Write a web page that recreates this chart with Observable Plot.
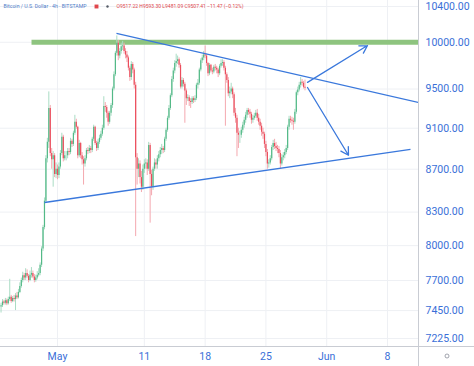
<!DOCTYPE html>
<html>
<head>
<meta charset="utf-8">
<script src="https://cdn.jsdelivr.net/npm/d3@7"></script>
<script src="https://cdn.jsdelivr.net/npm/@observablehq/plot@0.6"></script>
<style>
  html, body { margin: 0; padding: 0; background: #ffffff; }
  #chart { width: 474px; height: 366px; overflow: hidden; }
</style>
</head>
<body>
<div id="chart"></div>
<script>
// ---- Data (4h candles, BTC/USD Bitstamp) ----
const firstStart = "2020-04-24T12:00Z";
const firstOpen = 7480;
const closes = [
  7490, 7520, 7510,
  7530, 7505, 7540, 7560, 7525, 7550,
  7540, 7570, 7555, 7600, 7650, 7700,
  7740, 7720, 7760, 7735, 7700, 7745,
  7760, 7730, 7700, 7720, 7745, 7760,
  7830, 7970, 8160, 8400, 8800, 8960,
  9300, 8850, 8790, 8830, 8650, 8700,
  8640, 8720, 8850, 9010, 8800, 8830,
  8830, 8870, 8860, 8970, 8940, 9050,
  9160, 9110, 8830, 8950, 8830, 8790,
  8750, 8800, 8880, 8870, 8900, 8880,
  8990, 9110, 8950, 8900, 8960, 9000,
  9040, 9100, 9320, 9310, 9250, 9160,
  9250, 9330, 9500, 9650, 9880, 9990,
  9850, 9900, 9950, 9960, 9900, 9860,
  9830, 9720, 9620, 9760, 9700, 9540,
  8810, 8700, 8750, 8620, 8530, 8700,
  8750, 8760, 8700, 8930, 8650, 8530,
  8700, 8760, 8740, 8800, 8840, 8880,
  8900, 8880, 8990, 9080, 9200, 9300,
  9430, 9600, 9690, 9770, 9790, 9810,
  9750, 9520, 9590, 9550, 9480, 9400,
  9410, 9370, 9360, 9400, 9380, 9400,
  9540, 9560, 9700, 9800, 9830, 9860,
  9850, 9770, 9660, 9750, 9690, 9680,
  9730, 9720, 9700, 9660, 9740, 9770,
  9780, 9720, 9650, 9590, 9450, 9470,
  9500, 9440, 9250, 9200, 9050, 9030,
  9030, 9080, 9130, 9180, 9230, 9280,
  9260, 9240, 9180, 9200, 9220, 9250,
  9200, 9160, 9120, 9060, 9040, 8940,
  8860, 8750, 8760, 8800, 8910, 8950,
  8920, 8900, 8890, 8850, 8750, 8810,
  8830, 8860, 8900, 9110, 9190, 9180,
  9170, 9160, 9260, 9460, 9490, 9540,
  9570, 9560, 9517.22, 9507.41
];
const highs = [
  7510, 7540, 7535,
  7550, 7545, 7560, 7710, 7575, 7565,
  7575, 7590, 7600, 7625, 7680, 7720,
  7770, 7760, 7800, 7790, 7750, 7780,
  7810, 7780, 7750, 7745, 7775, 7800,
  7850, 7990, 8180, 8430, 8830, 9000,
  9470, 9330, 8900, 8870, 8850, 8760,
  8740, 8760, 8880, 9050, 9030, 8870,
  8870, 8900, 8900, 9000, 8990, 9070,
  9230, 9190, 9120, 8980, 8960, 8860,
  8820, 8830, 8900, 8910, 8930, 8920,
  9010, 9130, 9120, 8970, 8990, 9030,
  9070, 9130, 9420, 9360, 9330, 9270,
  9270, 9350, 9520, 9680, 9900, 10070,
  10020, 9930, 9990, 10010, 9990, 9930,
  9900, 9850, 9740, 9790, 9780, 9720,
  9570, 8850, 8800, 8780, 8680, 8740,
  8790, 8800, 8790, 8960, 8950, 8690,
  8720, 8800, 8790, 8830, 8870, 8910,
  8940, 8920, 9010, 9100, 9220, 9330,
  9450, 9630, 9720, 9800, 9870, 9850,
  9830, 9770, 9620, 9610, 9570, 9500,
  9440, 9430, 9400, 9420, 9420, 9430,
  9560, 9600, 9720, 9820, 9860, 9900,
  9960, 9870, 9780, 9770, 9760, 9720,
  9750, 9760, 9740, 9720, 9760, 9810,
  9810, 9800, 9740, 9670, 9620, 9520,
  9560, 9520, 9460, 9300, 9230, 9100,
  9070, 9110, 9160, 9210, 9260, 9300,
  9300, 9290, 9260, 9230, 9250, 9280,
  9290, 9240, 9190, 9150, 9100, 9060,
  8970, 8890, 8790, 8830, 8930, 8980,
  8990, 8960, 8930, 8920, 8880, 8840,
  8860, 8890, 8930, 9130, 9220, 9220,
  9210, 9200, 9290, 9480, 9520, 9570,
  9620, 9600, 9580, 9593.30
];
const lows = [
  7430, 7475, 7495,
  7495, 7490, 7495, 7525, 7510, 7515,
  7520, 7450, 7540, 7545, 7590, 7635,
  7680, 7700, 7700, 7720, 7680, 7690,
  7720, 7715, 7680, 7685, 7705, 7730,
  7740, 7810, 7950, 8140, 8380, 8760,
  8900, 8820, 8700, 8530, 8620, 8610,
  8600, 8610, 8700, 8830, 8770, 8780,
  8780, 8800, 8830, 8840, 8910, 8920,
  9030, 9090, 8800, 8810, 8800, 8740,
  8550, 8720, 8780, 8840, 8850, 8850,
  8860, 8970, 8930, 8870, 8880, 8940,
  8980, 9020, 9080, 9260, 9200, 9120,
  9140, 9220, 9300, 9480, 9630, 9850,
  9800, 9820, 9870, 9910, 9870, 9820,
  9780, 9690, 9580, 9590, 9660, 9500,
  8080, 8550, 8620, 8560, 8480, 8500,
  8660, 8700, 8640, 8680, 8200, 8450,
  8500, 8680, 8700, 8700, 8770, 8810,
  8840, 8850, 8860, 8970, 9060, 9180,
  9280, 9410, 9570, 9660, 9730, 9760,
  9720, 9500, 9500, 9520, 9150, 9330,
  9370, 9320, 9300, 9340, 9350, 9360,
  9380, 9500, 9540, 9680, 9770, 9800,
  9820, 9740, 9630, 9640, 9670, 9650,
  9660, 9690, 9660, 9620, 9640, 9720,
  9740, 9690, 9120, 9560, 9420, 9400,
  9440, 9400, 9220, 9150, 8820, 8900,
  8950, 9000, 9050, 9100, 9150, 9200,
  9230, 9200, 9140, 9150, 9180, 9200,
  9170, 9130, 9080, 9020, 8990, 8900,
  8820, 8700, 8710, 8740, 8780, 8880,
  8890, 8870, 8850, 8810, 8700, 8730,
  8780, 8800, 8840, 8880, 9080, 9150,
  9130, 9080, 9140, 9240, 9430, 9470,
  9510, 9530, 9500, 9481.09
];

// Drawings
const resistance = [{t1: "2020-04-28T00:10Z", t2: "2020-06-11T13:41Z", p1: 10000, p2: 10000}];
const trendlines = [
  {t1: "2020-05-07T19:00Z", p1: 10097, t2: "2020-06-11T13:41Z", p2: 9361},
  {t1: "2020-04-29T12:00Z", p1: 8388,  t2: "2020-06-10T15:33Z", p2: 8891}
];
const arrows = [
  {t1: "2020-05-29T18:55Z", p1: 9569, t2: "2020-06-05T16:44Z", p2: 9964},
  {t1: "2020-05-29T18:55Z", p1: 9516, t2: "2020-06-03T12:12Z", p2: 8834}
];

// Axes
const yTicks = [7225, 7450, 7700, 8000, 8300, 8700, 9100, 9500, 10000, 10400];
const xTickDates = ["2020-05-01", "2020-05-11", "2020-05-18", "2020-05-25", "2020-06-01", "2020-06-08"];
const xTickLabels = ["May", "11", "18", "25", "Jun", "8"];
const title = "Bitcoin / U.S. Dollar · 4h · BITSTAMP";
const ohlc = "O9517.22 H9593.30 L9481.09 C9507.41 −11.47 (−0.12%)";

// ---- Build ----
const t0 = new Date(firstStart).getTime();
const candles = closes.map((c, i) => ({
  t: new Date(t0 + i * 4 * 3600e3),
  o: i === 0 ? firstOpen : closes[i - 1],
  c,
  h: highs[i],
  l: lows[i]
}));
const toDate = s => new Date(s);
const xTicks = xTickDates.map(s => new Date(s + "T00:00Z"));
const labelMap = new Map(xTicks.map((d, i) => [+d, xTickLabels[i]]));

const UP = "#53b987", DOWN = "#eb4d5c";
const UPW = "#a9dcc4", DOWNW = "#f4a8af";
const BLUE = "#3a78dc";
const W = 474, H = 366, MR = 56, MB = 20;

const chart = Plot.plot({
  width: W,
  height: H,
  marginLeft: 0,
  marginRight: MR,
  marginTop: 0,
  marginBottom: MB,
  style: {fontFamily: "Roboto, 'Liberation Sans', sans-serif", fontSize: "10.5px", color: "#3a6fd8", background: "#ffffff"},
  x: {type: "utc", domain: [new Date("2020-04-24T10:28Z"), new Date("2020-06-11T13:41Z")]},
  y: {type: "log", domain: [7162, 10469]},
  marks: [
    Plot.gridX(xTicks, {stroke: "#eef0f4", strokeOpacity: 1}),
    Plot.gridY(yTicks, {stroke: "#eef0f4", strokeOpacity: 1}),
    Plot.link(resistance, {x1: d => toDate(d.t1), x2: d => toDate(d.t2), y1: "p1", y2: "p2", stroke: "#8ec47f", strokeWidth: 5, clip: true}),
    Plot.ruleX(candles, {x: "t", y1: "l", y2: "h", stroke: d => d.c >= d.o ? UPW : DOWNW, strokeWidth: 1}),
    Plot.ruleX(candles, {x: "t", y1: "o", y2: "c", stroke: d => d.c >= d.o ? UP : DOWN, strokeWidth: 1.2}),
    Plot.link(trendlines, {x1: d => toDate(d.t1), x2: d => toDate(d.t2), y1: "p1", y2: "p2", stroke: BLUE, strokeWidth: 1.3, clip: true}),
    Plot.arrow(arrows, {x1: d => toDate(d.t1), x2: d => toDate(d.t2), y1: "p1", y2: "p2", stroke: BLUE, strokeWidth: 1.3, headLength: 10, headAngle: 60}),
    Plot.axisY({anchor: "right", ticks: yTicks, tickSize: 0, tickPadding: 7, tickFormat: d => d.toFixed(2), label: null, textAnchor: "start"}),
    Plot.axisX({ticks: xTicks, tickSize: 0, tickPadding: 6, tickFormat: d => labelMap.get(+d), label: null}),
    Plot.text([title], {frameAnchor: "top-left", dx: 3, dy: 6, text: d => d, fontSize: 5.2, fill: "#4f7cc8", textAnchor: "start", lineAnchor: "middle"}),
    Plot.dot([0], {frameAnchor: "top-left", dx: 96, dy: 6, symbol: "square", r: 2.2, fill: "#e0474c", stroke: null}),
    Plot.dot([0], {frameAnchor: "top-left", dx: 107, dy: 6, r: 1.2, fill: "#555b66", stroke: null}),
    Plot.text([ohlc], {frameAnchor: "top-left", dx: 116, dy: 6, text: d => d, fontSize: 5, fill: "#e0474c", textAnchor: "start", lineAnchor: "middle"})
  ]
});

document.getElementById("chart").appendChild(chart);

// Pane separators (price-scale and time-scale borders) and settings glyph
const svg = d3.select(chart);
svg.append("line").attr("x1", W - MR + 0.5).attr("x2", W - MR + 0.5).attr("y1", 0).attr("y2", H)
  .attr("stroke", "#c9ccd3").attr("stroke-width", 1);
svg.append("line").attr("x1", 0).attr("x2", W).attr("y1", H - MB + 0.5).attr("y2", H - MB + 0.5)
  .attr("stroke", "#c9ccd3").attr("stroke-width", 1);
svg.append("circle").attr("cx", 447).attr("cy", 356).attr("r", 2)
  .attr("fill", "none").attr("stroke", "#8a8e99").attr("stroke-width", 0.8);
</script>
</body>
</html>
